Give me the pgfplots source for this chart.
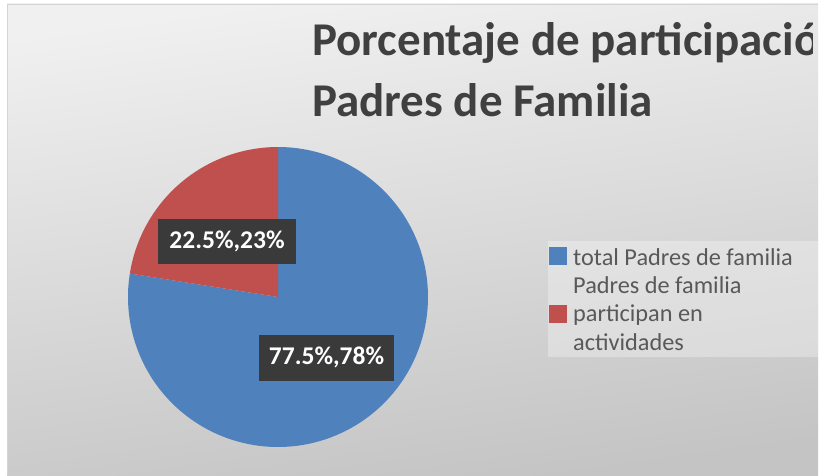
\documentclass[border=0pt]{standalone}
\usepackage{pgfplots}
\pgfplotsset{compat=1.18}
\usepackage{fontspec}
\setmainfont{Carlito}
\definecolor{piblue}{HTML}{4F81BD}
\definecolor{pired}{HTML}{C0504D}
\definecolor{titlegray}{HTML}{404040}
\definecolor{leggray}{HTML}{595959}
\definecolor{boxgray}{HTML}{3A3A3A}
\definecolor{bgtop}{HTML}{F0F0F0}
\definecolor{bgbot}{HTML}{C4C4C4}
\definecolor{framegray}{HTML}{D4D4D4}
% data (percent)
\def\valTotal{77.5}
\def\valPart{22.5}
\begin{document}
\begin{tikzpicture}[x=1pt,y=1pt]
\useasboundingbox (0,0) rectangle (825,475);
\fill[white] (0,0) rectangle (825,475);
\shade[top color=bgtop, bottom color=bgbot, shading angle=8] (7,0) rectangle (818,471);
\draw[framegray, line width=0.8pt] (7.4,0) -- (7.4,470.6) -- (818,470.6);
\pgfmathsetmacro{\angStart}{90}
\pgfmathsetmacro{\angMid}{90-3.6*\valTotal}
\pgfmathsetmacro{\angEnd}{\angMid-3.6*\valPart}
\begin{axis}[
  x=1pt, y=1pt, anchor=origin, at={(278pt,178pt)},
  xmin=-160, xmax=160, ymin=-160, ymax=160,
  hide axis, clip=false, data cs=polar]
\addplot[fill=piblue, draw=none, domain=\angStart:\angMid, samples=240] ({x},{150}) -- (axis cs:0,0) -- cycle;
\addplot[fill=pired, draw=none, domain=\angMid:\angEnd, samples=80] ({x},{150}) -- (axis cs:0,0) -- cycle;
\node[fill=boxgray, text=white, font=\fontsize{25.5}{30}\selectfont\bfseries, minimum height=45pt, minimum width=138pt, inner xsep=4pt] at (axis cs:-51,55.5) {22.5\%,23\%};
\node[fill=boxgray, text=white, font=\fontsize{25.5}{30}\selectfont\bfseries, minimum height=46pt, minimum width=135pt, inner xsep=4pt] at (axis cs:48.5,-60.5) {77.5\%,78\%};
\end{axis}
% legend
\fill[white, opacity=0.3] (548,118) rectangle (818,234);
\fill[piblue] (549,210) rectangle (567,228);
\fill[pired] (549,152) rectangle (567,170);
\begin{scope}[every node/.style={anchor=base west, inner sep=0pt, text=leggray, font=\fontsize{24.3}{28}\selectfont}]
\node at (573,210) {total Padres de familia};
\node at (573,181.5) {Padres de familia};
\node at (573,154) {participan en};
\node at (573,125) {actividades};
\end{scope}
% title
\begin{scope}
\clip (7,0) rectangle (812,471);
\node[anchor=base west, inner sep=0pt, text=titlegray, font=\fontsize{47}{56}\selectfont\bfseries] at (312,419) {Porcentaje de participación};
\node[anchor=base west, inner sep=0pt, text=titlegray, font=\fontsize{47}{56}\selectfont\bfseries] at (312,359) {Padres de Familia};
\end{scope}
\end{tikzpicture}
\end{document}
